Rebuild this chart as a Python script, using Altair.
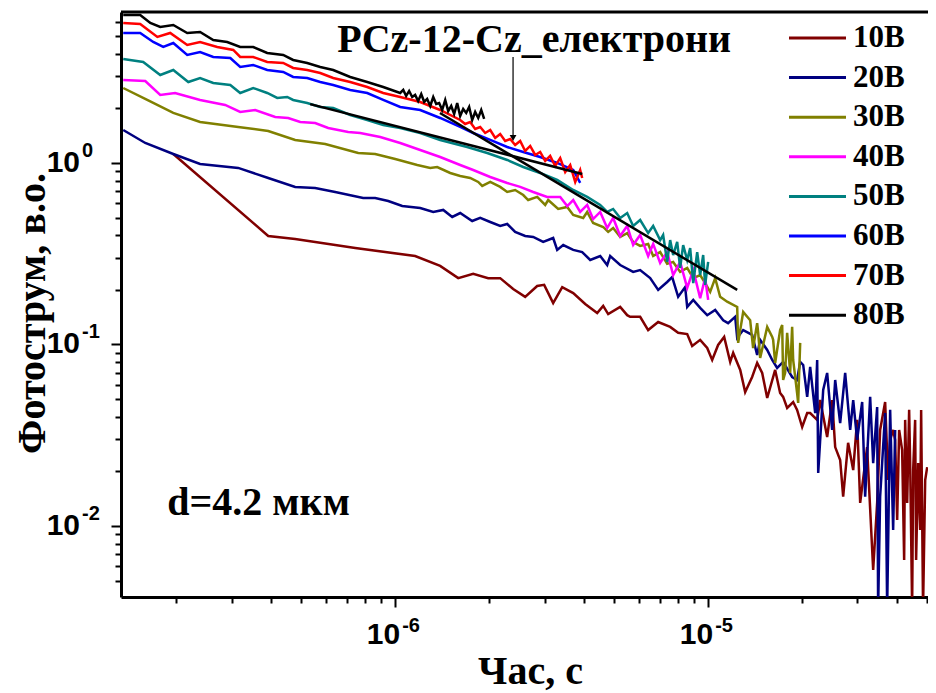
import altair as alt
import pandas as pd

# ---------------- data (time in microseconds, photocurrent in a.u.) ----------------
series_names = ["10В", "20В", "30В", "40В", "50В", "60В", "70В", "80В"]
series_colors = ["#800000", "#000080", "#808000", "#FF00FF", "#008080", "#0000FF", "#FF0000", "#000000"]

t_10 = [0.1954, 0.3929, 0.479, 0.7453, 1.158, 1.392, 1.59, 1.775, 1.982, 2.165, 2.382, 2.602, 2.842, 2.992,
        3.197, 3.417, 3.705, 4.046, 4.42, 4.619, 4.792, 5.234, 5.511, 5.633, 6.063, 6.43, 6.922, 7.561, 8.02,
        8.57, 8.89, 9.428, 9.93, 10.3, 10.76, 11.25, 11.76, 12.02, 12.66, 13.13, 13.82, 14.34, 14.88, 15.44,
        16.37, 16.98, 17.36, 17.88, 18.69, 19.24, 19.97, 20.72, 21.18, 22.3, 22.8, 24.0, 24.9, 25.46, 26.41,
        27.0, 28.0, 29.07, 29.92, 30.6, 32.2, 33.67, 34.67, 35.44, 36.77, 37.6, 38.15, 39.0, 39.58, 40.17,
        40.76, 41.67, 42.29, 42.6, 43.24, 43.87, 44.2, 44.85, 45.19, 45.85, 46.18, 46.88, 47.57, 47.92, 48.6,
        49.37, 50.1]
v_10 = [1.121, 0.396, 0.381, 0.34, 0.307, 0.271, 0.232, 0.245, 0.232, 0.232, 0.202, 0.183, 0.21, 0.213,
        0.169, 0.207, 0.192, 0.167, 0.149, 0.163, 0.147, 0.161, 0.145, 0.142, 0.142, 0.12, 0.133, 0.125, 0.116,
        0.114, 0.0981, 0.106, 0.0956, 0.0821, 0.0994, 0.110, 0.0801, 0.0898, 0.0724, 0.0547, 0.0662, 0.0791,
        0.0697, 0.0507, 0.0724, 0.054, 0.0514, 0.0447, 0.0482, 0.0436, 0.0351, 0.0419, 0.0419, 0.0384, 0.0494,
        0.0309, 0.0494, 0.0272, 0.0231, 0.0145, 0.0287, 0.0203, 0.0384, 0.0134, 0.0272, 0.00572, 0.0134,
        0.0338, 0.0482, 0.0179, 0.0298, 0.0338, 0.0298, 0.0108, 0.0338, 0.0262, 0.0065, 0.0384, 0.0134,
        0.0436, 0.0222, 0.0035, 0.0203, 0.0384, 0.0065, 0.0222, 0.0095, 0.0436, 0.0035, 0.0179, 0.0211]

t_20 = [0.1352, 0.159, 0.1954, 0.238, 0.315, 0.3929, 0.479, 0.555, 0.643, 0.79, 0.863, 0.95, 1.053, 1.202,
        1.323, 1.424, 1.521, 1.613, 1.762, 1.869, 2.012, 2.165, 2.28, 2.417, 2.602, 2.76, 2.97, 3.197, 3.293,
        3.442, 3.705, 3.958, 4.198, 4.519, 4.757, 4.863, 5.234, 5.759, 6.063, 6.527, 6.922, 7.396, 7.674,
        8.02, 8.443, 8.57, 8.96, 9.428, 9.93, 10.53, 11.17, 11.58, 12.2, 12.38, 12.94, 13.82, 14.34, 14.66,
        15.44, 16.02, 16.61, 17.36, 18.55, 19.24, 19.68, 20.12, 20.72, 21.18, 21.98, 22.3, 22.47, 23.31,
        24.0, 24.9, 25.46, 26.41, 27.4, 28.43, 29.07, 29.92, 31.05, 31.74, 32.93, 33.67, 34.67, 34.92,
        35.44, 36.77, 37.32, 38.15, 39.0, 39.58]
v_20 = [1.52, 1.289, 1.121, 0.987, 0.939, 0.827, 0.738, 0.728, 0.692, 0.641, 0.641, 0.617, 0.579, 0.565,
        0.537, 0.551, 0.504, 0.53, 0.479, 0.498, 0.473, 0.45, 0.461, 0.417, 0.396, 0.391, 0.367, 0.386, 0.332,
        0.353, 0.332, 0.323, 0.292, 0.307, 0.274, 0.307, 0.274, 0.251, 0.257, 0.232, 0.20, 0.221, 0.235,
        0.183, 0.207, 0.161, 0.176, 0.159, 0.145, 0.155, 0.136, 0.131, 0.142, 0.109, 0.12, 0.113, 0.0875,
        0.106, 0.0932, 0.0821, 0.0742, 0.0801, 0.0662, 0.0637, 0.0801, 0.0771, 0.0514, 0.0752, 0.0419,
        0.0821, 0.0196, 0.0562, 0.0697, 0.0338, 0.0637, 0.0369, 0.0697, 0.0338, 0.0494, 0.0298, 0.0482,
        0.0145, 0.0514, 0.0222, 0.0452, 0.0035, 0.0145, 0.0419, 0.0035, 0.0436, 0.0095, 0.0338]

t_30 = [0.1352, 0.1613, 0.1954, 0.238, 0.315, 0.3929, 0.479, 0.5975, 0.7617, 0.863, 1.0, 1.176, 1.294, 1.362,
        1.499, 1.613, 1.736, 1.842, 1.897, 2.012, 2.165, 2.28, 2.417, 2.565, 2.66, 2.842, 3.015, 3.082, 3.317,
        3.545, 3.705, 3.987, 4.106, 4.29, 4.619, 4.792, 4.971, 5.234, 5.511, 5.759, 6.063, 6.43, 6.672, 7.024,
        7.396, 7.73, 8.138, 8.57, 8.96, 9.428, 9.78, 10.15, 10.53, 10.92, 11.5, 12.38, 12.47, 12.66, 12.94,
        13.62, 13.92, 14.34, 14.45, 14.66, 15.44, 16.02, 16.13, 16.37, 16.98, 17.24, 17.36, 17.62, 17.88,
        18.28, 18.55, 18.69, 19.24, 19.39, 19.68]
v_30 = [2.589, 2.224, 1.886, 1.682, 1.579, 1.501, 1.339, 1.273, 1.135, 1.121, 1.052, 0.975, 0.939, 0.95,
        0.881, 0.848, 0.827, 0.786, 0.747, 0.786, 0.738, 0.692, 0.71, 0.666, 0.625, 0.65, 0.587, 0.625, 0.558,
        0.572, 0.517, 0.498, 0.537, 0.467, 0.444, 0.417, 0.438, 0.391, 0.411, 0.367, 0.349, 0.358, 0.307,
        0.323, 0.278, 0.285, 0.251, 0.264, 0.232, 0.241, 0.218, 0.195, 0.232, 0.183, 0.172, 0.161, 0.102,
        0.12, 0.151, 0.136, 0.0956, 0.131, 0.116, 0.0842, 0.125, 0.110, 0.106, 0.0791, 0.12, 0.128, 0.0637,
        0.0697, 0.116, 0.0697, 0.125, 0.0821, 0.054, 0.0476, 0.102]

t_40 = [0.1352, 0.159, 0.1775, 0.198, 0.238, 0.2862, 0.3197, 0.357, 0.4136, 0.455, 0.4972, 0.555, 0.6108,
        0.7076, 0.773, 0.8956, 1.0375, 1.202, 1.392, 1.613, 1.775, 2.012, 2.28, 2.508, 2.76, 3.059, 3.367,
        3.545, 3.705, 3.9, 4.106, 4.29, 4.519, 4.757, 4.971, 5.234, 5.511, 5.759, 6.063, 6.43, 6.672, 7.024,
        7.396, 7.73, 8.138, 8.57, 8.96, 9.428, 9.78, 10.0]
v_40 = [2.867, 2.83, 2.37, 2.43, 2.224, 2.087, 1.91, 1.959, 1.792, 1.77, 1.682, 1.661, 1.559, 1.482, 1.463,
        1.391, 1.289, 1.179, 1.079, 0.975, 0.915, 0.837, 0.776, 0.738, 0.692, 0.65, 0.65, 0.579, 0.625, 0.537,
        0.587, 0.491, 0.537, 0.438, 0.498, 0.396, 0.45, 0.353, 0.401, 0.307, 0.358, 0.281, 0.323, 0.241,
        0.285, 0.205, 0.257, 0.180, 0.232, 0.176]

t_50 = [0.1352, 0.1566, 0.1775, 0.1954, 0.2182, 0.238, 0.2622, 0.2972, 0.3197, 0.3518, 0.39, 0.4198, 0.4518,
        0.472, 0.5234, 0.576, 0.6337, 0.7182, 0.814, 0.9156, 1.0375, 1.202, 1.392, 1.698, 1.968, 2.28, 2.565,
        2.905, 3.293, 3.705, 4.106, 4.519, 4.757, 4.971, 5.234, 5.511, 5.759, 6.063, 6.43, 6.672, 7.024, 7.18,
        7.396, 7.561, 7.73, 7.962, 8.138, 8.32, 8.57, 8.76, 8.96, 9.224, 9.428, 9.64, 9.78, 10.0]
v_50 = [3.741, 3.601, 3.053, 3.253, 2.794, 2.939, 2.759, 2.69, 2.43, 2.589, 2.43, 2.281, 2.31, 2.224, 2.141,
        2.034, 2.009, 1.838, 1.726, 1.62, 1.559, 1.463, 1.339, 1.225, 1.135, 1.039, 0.95, 0.881, 0.806, 0.71,
        0.65, 0.587, 0.537, 0.558, 0.498, 0.53, 0.45, 0.485, 0.411, 0.45, 0.376, 0.401, 0.285, 0.376, 0.311,
        0.367, 0.264, 0.353, 0.292, 0.34, 0.218, 0.323, 0.241, 0.311, 0.213, 0.285]

t_60 = [0.1352, 0.1532, 0.1686, 0.1815, 0.1954, 0.2165, 0.238, 0.2622, 0.2972, 0.3197, 0.3518, 0.39, 0.4386,
        0.472, 0.5234, 0.576, 0.6337, 0.7182, 0.814, 0.9156, 1.0375, 1.202, 1.392, 1.613, 1.775, 2.012, 2.28,
        2.565, 2.905, 3.293, 3.705, 3.9]
v_60 = [5.203, 5.203, 4.642, 4.356, 4.583, 3.936, 4.089, 3.837, 3.789, 3.38, 3.467, 3.253, 3.172, 2.977,
        2.939, 2.794, 2.69, 2.525, 2.43, 2.224, 2.034, 1.959, 1.77, 1.579, 1.463, 1.339, 1.225, 1.15, 1.079,
        1.0, 0.915, 0.776]

t_70 = [0.1352, 0.1532, 0.1738, 0.191, 0.2165, 0.238, 0.27, 0.3038, 0.3197, 0.3518, 0.39, 0.4386, 0.472,
        0.5234, 0.576, 0.6337, 0.7182, 0.814, 0.9156, 1.0375, 1.202, 1.392, 1.613, 1.673, 1.736, 1.801, 1.869,
        1.939, 2.012, 2.087, 2.165, 2.246, 2.33, 2.417, 2.508, 2.602, 2.7, 2.801, 2.905, 3.015, 3.127, 3.245,
        3.367, 3.493, 3.624, 3.76, 3.9, 3.958]
v_70 = [5.905, 5.832, 4.946, 5.203, 4.468, 4.642, 4.356, 4.194, 3.837, 3.837, 3.601, 3.556, 3.337, 3.253,
        3.132, 2.939, 2.794, 2.622, 2.43, 2.31, 2.168, 1.959, 1.726, 1.640, 1.682, 1.539, 1.579, 1.463, 1.52,
        1.373, 1.445, 1.322, 1.356, 1.256, 1.322, 1.164, 1.241, 1.107, 1.15, 1.026, 1.093, 0.963, 1.065, 0.892,
        0.975, 0.786, 0.915, 0.827]

t_80 = [0.1352, 0.1532, 0.165, 0.1775, 0.1954, 0.2165, 0.238, 0.2622, 0.2905, 0.3197, 0.3518, 0.39, 0.4386,
        0.472, 0.5234, 0.576, 0.6337, 0.7182, 0.814, 0.9156, 1.0375, 1.061, 1.084, 1.108, 1.133, 1.158, 1.184,
        1.211, 1.238, 1.265, 1.294, 1.323, 1.352, 1.382, 1.413, 1.445, 1.477, 1.51, 1.543, 1.578, 1.613, 1.649,
        1.686, 1.723, 1.762, 1.801, 1.842, 1.883, 1.924]
v_80 = [6.54, 6.54, 5.905, 5.615, 5.759, 5.203, 5.27, 4.762, 4.642, 4.356, 4.356, 4.037, 3.936, 3.694, 3.556,
        3.38, 3.253, 2.977, 2.794, 2.622, 2.43, 2.525, 2.34, 2.493, 2.31, 2.37, 2.196, 2.40, 2.168, 2.252,
        2.061, 2.31, 2.114, 2.141, 1.959, 2.224, 1.934, 2.061, 1.862, 2.141, 1.815, 1.984, 1.886, 2.034, 1.726,
        1.91, 1.77, 1.959, 1.748]

# straight-line fits drawn over the data
fit_segment = ["A", "A", "B", "B"]
fit_t = [0.535, 3.96, 1.39, 12.38]
fit_v = [2.11, 0.870, 1.886, 0.1997]

# annotation arrow and texts
arrow_t = [2.38]
arrow_v_top = [3.84]
arrow_v_tip = [1.373]
label_text = ["PCz-12-Cz_електрони"]
label_t = [0.653]
label_v = [4.089]
thick_text = ["d=4.2 мкм"]
thick_t = [0.187]
thick_v = [0.0115]

# axis ticks, tick labels (base 10 and exponent) and plot frame
x_major = [1e-6, 1e-5]
x_major_exp = ["-6", "-5"]
y_major = [1e-2, 1e-1, 1]
y_major_exp = ["-2", "-1", "0"]
x_domain = [1.33e-7, 5.04e-5]
y_domain = [4.06e-3, 6.79]

# ---------------- build tables ----------------
US = 1e-6
all_t = [t_10, t_20, t_30, t_40, t_50, t_60, t_70, t_80]
all_v = [v_10, v_20, v_30, v_40, v_50, v_60, v_70, v_80]
rows = []
for name, ts, vs in zip(series_names, all_t, all_v):
    assert len(ts) == len(vs), name
    for t, v in zip(ts, vs):
        rows.append({"series": name, "t": t * US, "v": v})
df = pd.DataFrame(rows)

fit_df = pd.DataFrame({"seg": fit_segment, "t": [t * US for t in fit_t], "v": fit_v})
arrow_df = pd.DataFrame({"t": [t * US for t in arrow_t], "v": arrow_v_top, "v2": arrow_v_tip})
head_df = pd.DataFrame({"t": [t * US for t in arrow_t], "v": arrow_v_tip})
label_df = pd.DataFrame({"t": [t * US for t in label_t], "v": label_v, "text": label_text})
thick_df = pd.DataFrame({"t": [t * US for t in thick_t], "v": thick_v, "text": thick_text})
frame_df = pd.DataFrame({"t": [x_domain[0]], "t2": [x_domain[1]], "v": [y_domain[1]]})
xlab_df = pd.DataFrame({"t": x_major, "v": [y_domain[0]] * len(x_major),
                        "base": ["10"] * len(x_major), "exp": x_major_exp})
ylab_df = pd.DataFrame({"t": [x_domain[0]] * len(y_major), "v": y_major,
                        "base": ["10"] * len(y_major), "exp": y_major_exp})


def tick_values(lo, hi):
    vals = []
    for e in range(-8, 2):
        for m in range(1, 10):
            val = m * 10.0 ** e
            if lo <= val <= hi:
                vals.append(val)
    return vals


def is_major(majors):
    return " || ".join(f"abs(datum.value / {m!r} - 1) < 1e-6" for m in majors)


x_scale = alt.Scale(type="log", domain=x_domain, nice=False)
y_scale = alt.Scale(type="log", domain=y_domain, nice=False)

common_axis = dict(
    grid=False,
    labels=False,
    domainColor="black",
    domainWidth=3,
    tickColor="black",
    tickWidth=2,
    titleFont="Liberation Serif",
    titleFontSize=40,
    titleFontWeight="bold",
    titleColor="black",
)

x_axis = alt.Axis(
    values=tick_values(*x_domain),
    tickSize={"condition": {"test": is_major(x_major), "value": 10}, "value": 6},
    title="Час, с",
    titleX=409,
    titleY=86,
    titleAlign="center",
    titleBaseline="alphabetic",
    **common_axis,
)
y_axis = alt.Axis(
    values=tick_values(*y_domain),
    tickSize={"condition": {"test": is_major(y_major), "value": 10}, "value": 6},
    title="Фотострум, в.о.",
    titleAngle=-90,
    titleX=-77,
    titleY=301,
    titleAlign="center",
    titleBaseline="alphabetic",
    **common_axis,
)

legend = alt.Legend(
    orient="none",
    legendX=680.5,
    legendY=10,
    title=None,
    padding=0,
    symbolType="M-2,0H2",
    symbolSize=812,
    symbolStrokeWidth=3,
    symbolOffset=0,
    labelFont="Liberation Serif",
    labelFontSize=31,
    labelFontWeight="bold",
    labelColor="black",
    labelOffset=19.5,
    rowPadding=8.6,
)

X = alt.X("t:Q", scale=x_scale, axis=x_axis)
Y = alt.Y("v:Q", scale=y_scale, axis=y_axis)

lines = alt.Chart(df).mark_line(clip=True, strokeWidth=2.5).encode(
    x=X, y=Y,
    color=alt.Color("series:N", sort=series_names,
                    scale=alt.Scale(domain=series_names, range=series_colors), legend=legend),
)

fits = alt.Chart(fit_df).mark_line(clip=True, strokeWidth=2.5, color="black").encode(
    x=X, y=Y, detail="seg:N",
)

frame = alt.Chart(frame_df).mark_rule(color="black", strokeWidth=3).encode(
    x=X, x2="t2:Q", y=Y,
)

arrow = alt.Chart(arrow_df).mark_rule(color="black", strokeWidth=1.2).encode(
    x=X, y=Y, y2="v2:Q",
)

head = alt.Chart(head_df).mark_point(shape="triangle-down", filled=True, color="black",
                                     size=45, opacity=1).encode(x=X, y=Y)

label = alt.Chart(label_df).mark_text(align="left", baseline="alphabetic", font="Liberation Serif",
                                      fontSize=40, fontWeight="bold", color="black").encode(
    x=X, y=Y, text="text:N",
)

thick = alt.Chart(thick_df).mark_text(align="left", baseline="alphabetic", font="Liberation Serif",
                                      fontSize=40, fontWeight="bold", color="black").encode(
    x=X, y=Y, text="text:N",
)

tick_font = dict(font="Liberation Sans", fontWeight="bold", color="black")

xlab_base = alt.Chart(xlab_df).mark_text(align="right", baseline="alphabetic", fontSize=30,
                                         dx=5, dy=47, **tick_font).encode(x=X, y=Y, text="base:N")
xlab_exp = alt.Chart(xlab_df).mark_text(align="left", baseline="alphabetic", fontSize=20,
                                        dx=7, dy=35, **tick_font).encode(x=X, y=Y, text="exp:N")
ylab_base = alt.Chart(ylab_df).mark_text(align="right", baseline="alphabetic", fontSize=30,
                                         dx=-41, dy=9, **tick_font).encode(x=X, y=Y, text="base:N")
ylab_exp = alt.Chart(ylab_df).mark_text(align="left", baseline="alphabetic", fontSize=20,
                                        dx=-39, dy=-6, **tick_font).encode(x=X, y=Y, text="exp:N")

chart = (
    alt.layer(lines, fits, frame, arrow, head, label, thick, xlab_base, xlab_exp, ylab_base, ylab_exp)
    .properties(
        width=807,
        height=585,
        padding={"left": 113, "top": 4, "right": 0, "bottom": 96},
        autosize=alt.AutoSizeParams(type="none"),
        background="white",
    )
    .configure_view(stroke=None)
)

chart.save("out.html", embed_options={"renderer": "svg", "actions": False})
